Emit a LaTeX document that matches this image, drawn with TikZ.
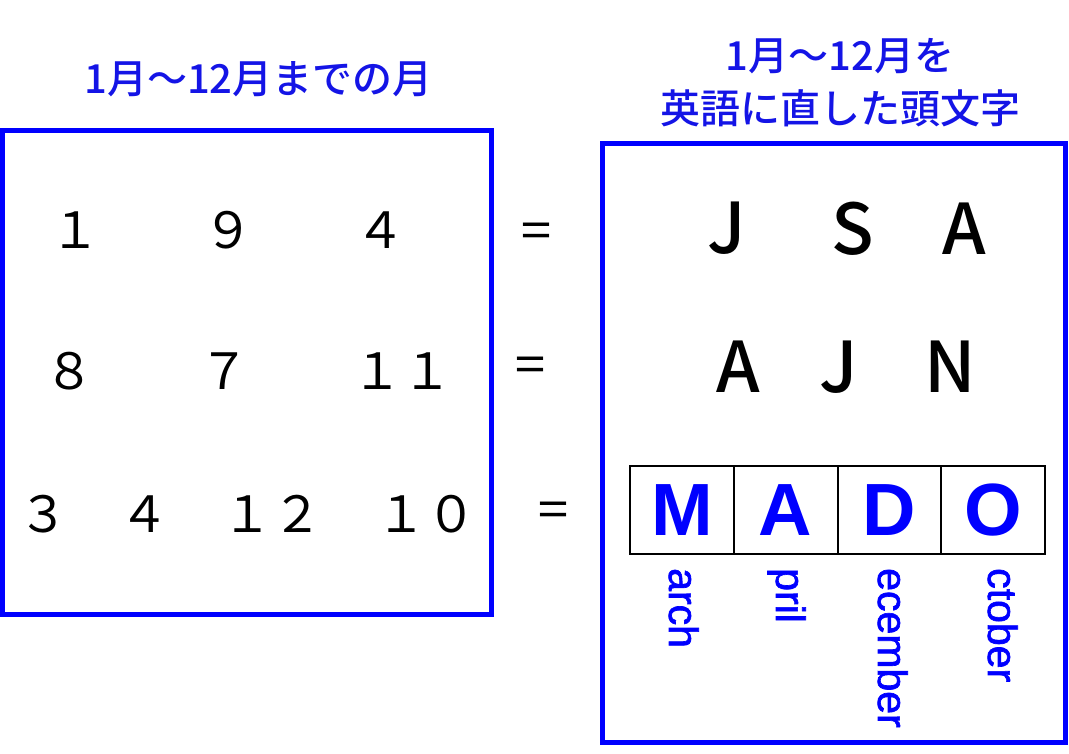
\documentclass[tikz,border=0pt]{standalone}
\usepackage{graphicx}
\usepackage{fontspec}
\newfontfamily\jp{Noto Sans CJK JP}
\newfontfamily\jpm{Noto Sans CJK JP Medium}
\newfontfamily\lsans{Liberation Sans}
\newfontfamily\lsfb{Liberation Sans}[FakeBold=1.6]
\definecolor{tblue}{RGB}{0,0,255}
\definecolor{ttitle}{RGB}{20,20,230}
\tikzset{
  frame/.style={draw=tblue, line width=5pt, inner sep=0pt},
  ttl/.style={text=ttitle, inner sep=0pt, align=center, font=\jpm\fontsize{40}{53}\selectfont},
  num/.style={inner sep=0pt, font=\jp\fontsize{50}{60}\selectfont},
  eqs/.style={inner sep=0pt, font=\jp\fontsize{50}{60}\selectfont},
  ltr/.style={inner sep=0pt, font=\jpm\fontsize{70}{80}\selectfont},
  cell/.style={draw=black, line width=2pt, text=tblue, inner sep=0pt, minimum width=103.75pt, minimum height=88pt, font=\lsans\bfseries\fontsize{74}{80}\selectfont},
  vlab/.style={text=tblue, inner sep=0pt, rotate=-90, anchor=base west, font=\lsfb\fontsize{41}{45}\selectfont}
}
\begin{document}
\begin{tikzpicture}[x=1pt,y=-1pt]
\useasboundingbox (0,0) rectangle (1069,753);
% titles
\node[ttl] (t1) at (258.5,79.5) {1月〜12月までの月};
\node[ttl] (t2) at (840,83) {1月〜12月を\\英語に直した頭文字};
% frames
\node[frame, minimum width=489pt, minimum height=484pt] (lbox) at (247,372.5) {};
\node[frame, minimum width=463pt, minimum height=599.5pt] (rbox) at (834,442.75) {};
% numbers
\node[num] (n11) at (75,230) {１};
\node[num] (n12) at (228,230) {９};
\node[num] (n13) at (380,230) {４};
\node[num] (n21) at (70,371) {８};
\node[num] (n22) at (224,371) {７};
\node[num] (n23) at (402,371) {１１};
\node[num] (n31) at (43,514) {３};
\node[num] (n32) at (144,514) {４};
\node[num] (n33) at (272.5,514) {１２};
\node[num] (n34) at (426,514) {１０};
% equals
\node[eqs] (e1) at (536,236) {\scalebox{0.72}[1]{＝}};
\node[eqs] (e2) at (530,370) {\scalebox{0.72}[1]{＝}};
\node[eqs] (e3) at (553,515) {\scalebox{0.72}[1]{＝}};
% letters
\node[ltr] (l11) at (727,228.5) {J};
\node[ltr] (l12) at (853,228.5) {S};
\node[ltr] (l13) at (964,228.5) {A};
\node[ltr] (l21) at (738,367) {A};
\node[ltr] (l22) at (839,367) {J};
\node[ltr] (l23) at (950,367) {N};
% table
\node[cell] (cM) at (681.875,510) {M};
\node[cell] (cA) at (785.625,510) {A};
\node[cell] (cD) at (889.375,510) {D};
\node[cell] (cO) at (993.125,510) {O};
% vertical labels
\node[vlab] (vM) at (669,568) {arch};
\node[vlab] (vA) at (776,568) {pril};
\node[vlab] (vD) at (878,568) {ecember};
\node[vlab] (vO) at (988,568) {ctober};
\end{tikzpicture}
\end{document}
